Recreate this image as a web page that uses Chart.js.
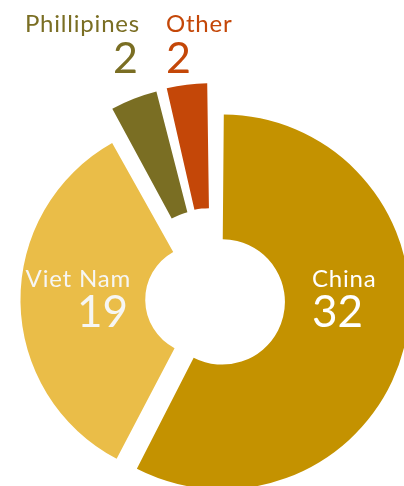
<!DOCTYPE html>
<html>
<head>
<meta charset="utf-8">
<script src="https://cdn.jsdelivr.net/npm/chart.js@4/dist/chart.umd.min.js"></script>
<style>
html, body { margin: 0; padding: 0; background: #fff; }
#wrap { width: 404px; height: 486px; }
</style>
</head>
<body>
<div id="wrap"><canvas id="doughnut-canvas"></canvas></div>
<script>
var countries = ['China', 'Viet Nam', 'Phillipines', 'Other'];
var counts = [32, 19, 2.4, 2.1];

var sliceColors = ['#c49200', '#eabd48', '#7a6e23', '#c44708'];
var textColors = ['#ffffff', '#f6f6f4', '#7a6e23', '#c44708'];
// chart.js moves a slice out by offset / 4
var sliceOffsets = [40, 50, 88, 88];

// label anchors: x for the name, x for the value, baselines, alignment
var labelSpots = [
    {x1: 312, x2: 312, y1: 287, y2: 327, align: 'left', s1: 24, s2: 44},
    {x1: 131, x2: 128, y1: 287, y2: 327, align: 'right', s1: 24, s2: 44},
    {x1: 140, x2: 138, y1: 32, y2: 73, align: 'right', s1: 24, s2: 43},
    {x1: 166, x2: 166, y1: 32, y2: 73, align: 'left', s1: 24, s2: 43}
];

var FONT = 'Lato, "Noto Sans", sans-serif';

var sliceLabels = {
    id: 'sliceLabels',
    afterDraw: function (chart) {
        var ctx = chart.ctx;
        ctx.save();
        countries.forEach(function (name, i) {
            var spot = labelSpots[i];
            ctx.fillStyle = textColors[i];
            ctx.textAlign = spot.align;
            ctx.textBaseline = 'alphabetic';
            ctx.letterSpacing = '0.8px';
            ctx.font = spot.s1 + 'px ' + FONT;
            ctx.fillText(name, spot.x1, spot.y1);
            ctx.letterSpacing = '0px';
            ctx.font = spot.s2 + 'px ' + FONT;
            ctx.fillText(String(Math.round(counts[i])), spot.x2, spot.y2);
        });
        ctx.restore();
    }
};

new Chart(document.getElementById('doughnut-canvas'), {
    type: 'doughnut',
    data: {
        labels: countries,
        datasets: [
            {
                data: counts,
                backgroundColor: sliceColors,
                borderWidth: 0,
                offset: sliceOffsets,
                clip: false
            }
        ]
    },
    options: {
        responsive: true,
        maintainAspectRatio: false,
        animation: false,
        radius: 177.5,
        cutout: '29.7%',
        layout: {
            padding: {left: 21, top: 113, right: 0, bottom: 0}
        },
        plugins: {
            legend: {display: false},
            tooltip: {enabled: false}
        }
    },
    plugins: [sliceLabels]
});
</script>
</body>
</html>
